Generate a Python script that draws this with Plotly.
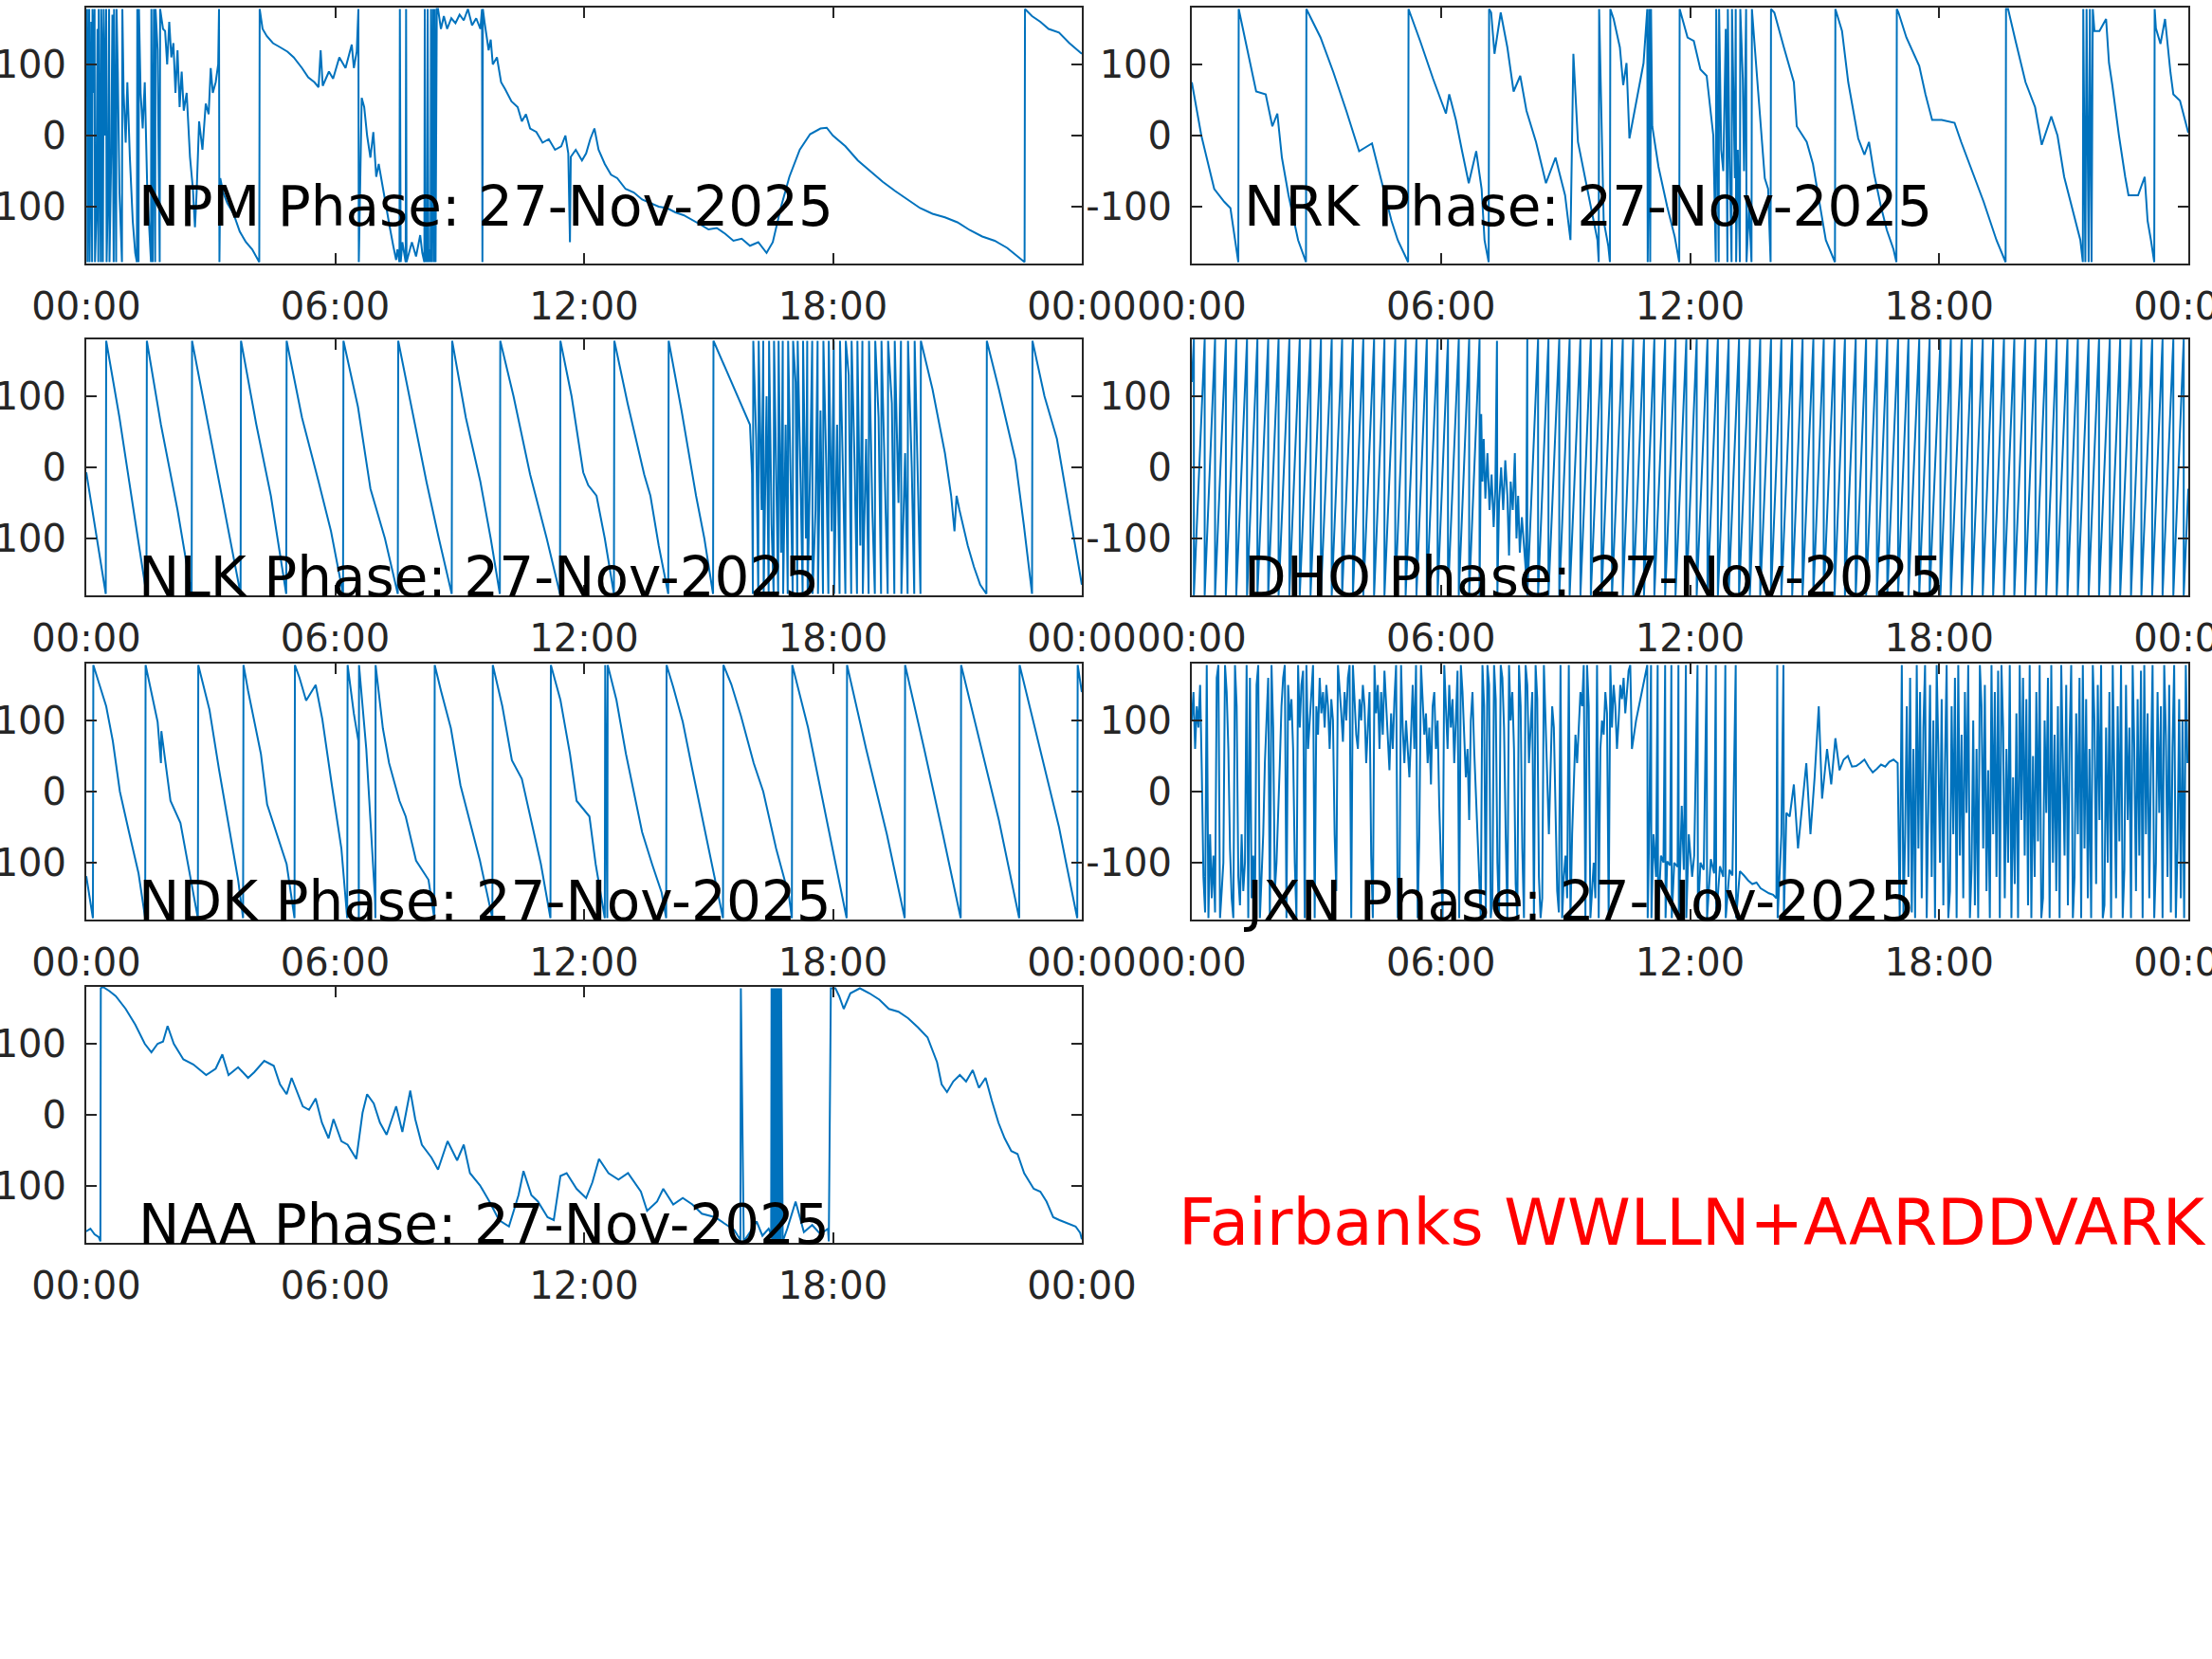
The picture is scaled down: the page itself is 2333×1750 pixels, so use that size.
import plotly.graph_objects as go

# ---------------- tick definitions ----------------
HOUR_TICKS = [0, 6, 12, 18, 24]
HOUR_LABELS = ["00:00", "06:00", "12:00", "18:00", "00:00"]
PHASE_TICKS = [-100, 0, 100]
PHASE_LABELS = ["-100", "0", "100"]

STATIONS = ["NPM", "NRK", "NLK", "DHO", "NDK", "JXN", "NAA"]
DATE_LABEL = "27-Nov-2025"
SITE_LABEL = "Fairbanks WWLLN+AARDDVARK"

# ---------------- data (hours UT, phase deg) ----------------
npm_t = [0.00, 0.02, 0.03, 0.05, 0.07, 0.08, 0.10, 0.12, 0.14, 0.15, 0.18, 0.20, 0.21, 0.24, 0.27, 0.29, 0.30, 0.32,
         0.35, 0.36, 0.38, 0.40, 0.42, 0.45, 0.48, 0.49, 0.52, 0.55, 0.56, 0.60, 0.63, 0.66, 0.67, 0.70, 0.72, 0.73,
         0.76, 0.80, 0.84, 0.86, 0.87, 0.90, 0.95, 0.99, 1.05, 1.12, 1.18, 1.22, 1.23, 1.26, 1.27, 1.31, 1.36, 1.41,
         1.47, 1.56, 1.57, 1.60, 1.63, 1.66, 1.67, 1.72, 1.77, 1.78, 1.85, 1.90, 1.95, 2.00, 2.05, 2.10, 2.15, 2.20,
         2.25, 2.30, 2.35, 2.42, 2.50, 2.57, 2.62, 2.66, 2.72, 2.80, 2.88, 2.95, 3.00, 3.05, 3.12, 3.18, 3.20, 3.21,
         3.23, 3.30, 3.40, 3.55, 3.70, 3.85, 4.00, 4.10, 4.17, 4.18, 4.25, 4.35, 4.50, 4.65, 4.85, 5.00, 5.20, 5.35,
         5.50, 5.60, 5.65, 5.70, 5.85, 5.95, 6.10, 6.25, 6.40, 6.45, 6.52, 6.56, 6.57, 6.64, 6.70, 6.77, 6.85, 6.92,
         6.99, 7.05, 7.15, 7.25, 7.32, 7.40, 7.47, 7.50, 7.55, 7.56, 7.58, 7.62, 7.68, 7.70, 7.71, 7.72, 7.78, 7.85,
         7.95, 8.00, 8.05, 8.10, 8.15, 8.16, 8.18, 8.20, 8.22, 8.23, 8.25, 8.28, 8.30, 8.31, 8.33, 8.36, 8.38, 8.40,
         8.42, 8.45, 8.48, 8.55, 8.62, 8.70, 8.80, 8.90, 9.00, 9.10, 9.20, 9.30, 9.40, 9.50, 9.54, 9.55, 9.56, 9.60,
         9.70, 9.75, 9.80, 9.90, 10.00, 10.10, 10.25, 10.40, 10.50, 10.60, 10.70, 10.85, 11.00, 11.15, 11.30, 11.45,
         11.55, 11.62, 11.66, 11.68, 11.80, 11.95, 12.05, 12.15, 12.25, 12.35, 12.50, 12.65, 12.80, 13.00, 13.20,
         13.40, 13.60, 13.80, 14.00, 14.20, 14.40, 14.60, 14.80, 15.00, 15.20, 15.40, 15.60, 15.80, 16.00, 16.20,
         16.40, 16.55, 16.75, 16.95, 17.20, 17.45, 17.70, 17.85, 18.00, 18.30, 18.60, 18.90, 19.20, 19.50, 19.80,
         20.10, 20.40, 20.70, 21.00, 21.30, 21.60, 21.90, 22.20, 22.45, 22.62, 22.63, 22.80, 23.00, 23.20, 23.45,
         23.70, 24.00]
npm_p = [120, 178, -178, 100, 178, -178, -60, 160, -178, 178, 60, 178, -178, -120, 150, -178, 178, 20,
         -178, 178, 120, -178, 178, 0, 178, -178, -90, 178, -178, -30, 170, -178, 178, -20, -178, 178,
         90, -80, -150, -178, 178, 60, -10, 75, -30, -120, -165, -178, 178, -178, 178, 60, 10, 75,
         -75, -178, 178, -178, 178, -178, 178, 120, -178, 178, 150, 147, 100, 160, 110, 130, 60, 120,
         40, 90, 35, 60, -30, -75, -129, -80, 20, -20, 45, 30, 95, 60, 75, 100, 178, -178,
         -60, -80, -95, -110, -135, -150, -160, -170, -178, 178, 150, 140, 130, 125, 118, 110, 95, 82,
         75, 68, 120, 70, 90, 80, 110, 95, 128, 95, 118, 178, -178, 53, 40, 0, -31, 5,
         -58, -40, -75, -110, -130, -155, -175, -160, -178, 178, -178, -150, -170, -178, 178, -178, -165, -150,
         -170, -155, -140, -165, -178, 178, -178, -150, -178, 178, -178, -160, -178, 178, -178, 178, -178, 178,
         -178, 178, 178, 150, 168, 150, 165, 158, 170, 162, 178, 155, 165, 150, 178, -178, 178, 160,
         120, 135, 100, 110, 75, 65, 48, 40, 20, 30, 10, 5, -10, -5, -20, -15,
         0, -25, -150, -30, -20, -35, -25, -5, 10, -20, -40, -55, -60, -75, -80,
         -90, -95, -100, -102, -108, -112, -118, -125, -132, -130, -138, -148, -145, -155, -150,
         -165, -150, -100, -58, -20, 2, 10, 11, 0, -15, -35, -50, -65, -78, -90,
         -102, -110, -115, -122, -133, -142, -148, -158, -170, -178, 178, 168, 160, 150, 145,
         130, 115]

nrk_t = [0.00, 0.23, 0.54, 0.78, 0.93, 1.12, 1.13, 1.24, 1.40, 1.55, 1.78, 1.94, 2.06, 2.17, 2.33, 2.56, 2.75, 2.76,
         3.10, 3.41, 3.72, 4.03, 4.34, 4.50, 4.81, 4.96, 5.21, 5.22, 5.50, 5.81, 6.12, 6.20, 6.36, 6.51, 6.67, 6.85,
         6.98, 7.05, 7.15, 7.16, 7.21, 7.29, 7.44, 7.60, 7.75, 7.91, 8.06, 8.29, 8.53, 8.76, 8.99, 9.12, 9.19, 9.30,
         9.53, 9.77, 9.80, 9.81, 9.92, 10.03, 10.07, 10.08, 10.16, 10.31, 10.39, 10.47, 10.54, 10.70, 10.78, 10.88,
         10.97, 10.98, 11.00, 11.02, 11.04, 11.06, 11.09, 11.24, 11.45, 11.63, 11.74, 11.75, 11.94, 12.09, 12.25,
         12.40, 12.56, 12.62, 12.63, 12.66, 12.69, 12.70, 12.75, 12.80, 12.86, 12.90, 12.91, 12.95, 13.00, 13.01,
         13.05, 13.08, 13.10, 13.11, 13.15, 13.20, 13.21, 13.27, 13.30, 13.35, 13.36, 13.42, 13.48, 13.49, 13.64,
         13.80, 13.88, 13.94, 13.95, 14.03, 14.26, 14.50, 14.57, 14.81, 14.96, 15.12, 15.27, 15.49, 15.50, 15.66,
         15.81, 16.05, 16.20, 16.31, 16.43, 16.59, 16.74, 16.90, 16.97, 16.98, 17.02, 17.21, 17.52, 17.67, 17.83,
         18.06, 18.37, 18.53, 18.76, 19.07, 19.38, 19.60, 19.61, 19.66, 19.84, 20.08, 20.31, 20.47, 20.70, 20.85,
         21.01, 21.24, 21.40, 21.46, 21.47, 21.52, 21.55, 21.60, 21.63, 21.67, 21.70, 21.74, 21.86, 22.02, 22.09,
         22.17, 22.33, 22.48, 22.56, 22.64, 22.79, 22.95, 23.02, 23.10, 23.18, 23.19, 23.22, 23.33, 23.44, 23.57,
         23.64, 23.80, 24.00]
nrk_p = [75, 0, -75, -93, -102, -178, 178, 147, 102, 62, 58, 13, 31, -31, -84, -147, -178, 178,
         138, 89, 35, -22, -11, -49, -120, -147, -178, 178, 133, 80, 31, 58, 22, -22, -67, -22,
         -75, -147, -178, 178, 173, 115, 173, 124, 62, 84, 35, -9, -67, -31, -84, -147, 115, -9,
         -75, -147, -178, 178, -120, -155, -178, 178, 164, 124, 71, 102, -4, 44, 71, 102,
         178, -178, -60, 178, -178, 178, 13, -44, -100, -142, -178, 178, 138, 133, 93,
         84, 0, -178, 178, -40, -178, 178, -20, -50, 150, -178, 178, -30, -178, 178,
         20, -60, 178, -178, -20, -178, 178, 80, -50, 178, -178, -100, -178, 178, 62,
         -60, -75, -178, 178, 173, 124, 75, 13, -9, -40, -98, -147, -178, 178, 147,
         75, -4, -27, -9, -53, -98, -133, -160, -178, 178, 173, 138, 98, 58, 22,
         22, 18, -9, -44, -93, -147, -178, 178, 178, 133, 75, 40, -13, 27, 0,
         -58, -111, -147, -178, 178, -178, 178, -178, 178, -178, 178, 147, 147, 164, 102,
         71, 0, -58, -84, -84, -84, -58, -120, -147, -178, 178, 151, 129, 164, 89,
         58, 49, 4]

nlk_t = [0.00, 0.12, 0.30, 0.47, 0.48, 0.80, 1.10, 1.45, 1.46, 1.80, 2.20, 2.54, 2.55, 2.90, 3.30, 3.72, 3.73, 4.10,
         4.45, 4.82, 4.83, 5.20, 5.60, 5.90, 6.19, 6.20, 6.55, 6.85, 7.20, 7.51, 7.52, 7.85, 8.20, 8.50, 8.81, 8.82,
         9.15, 9.50, 9.75, 9.97, 9.98, 10.30, 10.70, 11.10, 11.42, 11.43, 11.70, 11.98, 12.10, 12.30, 12.50, 12.72,
         12.73, 13.05, 13.45, 13.60, 13.80, 14.03, 14.04, 14.35, 14.70, 14.90, 15.11, 15.12, 15.40, 15.70, 16.00,
         16.05, 16.07, 16.08, 16.15, 16.20, 16.21, 16.28, 16.32, 16.33, 16.40, 16.45, 16.46, 16.52, 16.57, 16.58,
         16.63, 16.68, 16.69, 16.75, 16.79, 16.80, 16.86, 16.91, 16.92, 16.98, 17.03, 17.04, 17.10, 17.14, 17.15,
         17.22, 17.27, 17.28, 17.35, 17.38, 17.39, 17.46, 17.50, 17.51, 17.58, 17.63, 17.64, 17.70, 17.76, 17.77,
         17.84, 17.89, 17.90, 17.97, 18.02, 18.03, 18.10, 18.16, 18.17, 18.25, 18.30, 18.31, 18.38, 18.44, 18.45,
         18.52, 18.58, 18.59, 18.66, 18.71, 18.72, 18.80, 18.86, 18.87, 18.95, 19.01, 19.02, 19.10, 19.16, 19.17,
         19.26, 19.32, 19.33, 19.42, 19.48, 19.49, 19.58, 19.64, 19.65, 19.74, 19.80, 19.81, 19.90, 19.96, 19.97,
         20.05, 20.11, 20.12, 20.40, 20.70, 20.85, 20.93, 20.98, 21.05, 21.25, 21.40, 21.55, 21.70, 21.71, 22.00,
         22.40, 22.60, 22.80, 22.81, 23.10, 23.40, 23.70, 24.00]
nlk_p = [-7, -50, -120, -178, 178, 70, -45, -178, 178, 60, -60, -178, 178, 70, -50, -178, 178, 60,
         -40, -178, 178, 70, -20, -90, -178, 178, 85, -30, -100, -178, 178, 80, -20, -100, -178, 178,
         70, -20, -100, -178, 178, 100, -10, -100, -178, 178, 100, -7, -25, -40, -100, -178,
         178, 90, -10, -40, -110, -178, 178, 80, -40, -100, -178, 178, 140, 100, 60,
         -10, -178, 178, 40, -178, 178, -60, 178, -178, 100, -178, 178, -80, -178, 178,
         20, -178, 178, -120, 178, -178, 60, -178, 178, -40, -178, 178, 120, -178, 178,
         -20, -178, 178, -100, 178, -178, 30, 178, -178, -60, 178, -178, 80, -178, 178,
         0, -178, 178, -90, 178, -178, 60, -178, 178, -30, -178, 178, 130, -178, 178,
         10, -178, 178, -110, 178, -178, 40, -178, 178, -60, -178, 178, 70, -178, 178,
         -20, -178, 178, 90, -178, 178, -50, 178, -178, 20, -178, 178, 0, -178, 178,
         -10, -178, 178, 110, 20, -40, -90, -40, -60, -110, -140, -165, -178, 178, 110,
         10, -80, -178, 178, 100, 40, -60, -165]

# DHO: regular sawtooth; times (h) where the phase wraps from +180 to -180
dho_start_p = 120
dho_wraps_before = [0.05, 0.31, 0.56, 0.82, 1.07, 1.33, 1.58, 1.84, 2.09, 2.35, 2.60, 2.86, 3.11, 3.37, 3.62,
                    3.88, 4.13, 4.39, 4.64, 4.90, 5.15, 5.41, 5.66, 5.92, 6.17, 6.43, 6.68, 6.93]
dho_gap_t = [6.97, 7.00, 7.03, 7.07, 7.12, 7.17, 7.22, 7.27, 7.31, 7.35, 7.36, 7.40, 7.45, 7.50, 7.55, 7.60,
             7.64, 7.68, 7.73, 7.78, 7.82, 7.86, 7.90, 7.95, 8.00, 8.05]
dho_gap_p = [75, -20, 40, -44, 20, -60, -10, -84, -30, 178, -178, -50, 0, -60, 10, -40,
             -124, -20, -60, 20, -100, -40, -120, -70, -110, -150]
dho_wraps_after = [8.08, 8.34, 8.59, 8.85, 9.10, 9.36, 9.61, 9.87, 10.12, 10.38, 10.63, 10.89, 11.14, 11.40,
                   11.65, 11.91, 12.16, 12.42, 12.67, 12.93, 13.18, 13.44, 13.69, 13.95, 14.20, 14.46, 14.71,
                   14.97, 15.22, 15.48, 15.73, 15.99, 16.24, 16.50, 16.75, 17.01, 17.26, 17.52, 17.77, 18.03,
                   18.28, 18.54, 18.79, 19.05, 19.30, 19.56, 19.81, 20.07, 20.32, 20.58, 20.83, 21.09, 21.34,
                   21.60, 21.85, 22.11, 22.36, 22.62, 22.87, 23.13, 23.38, 23.64, 23.89]
dho_end_p = -30

ndk_t = [0.00, 0.16, 0.17, 0.48, 0.64, 0.81, 1.03, 1.26, 1.42, 1.43, 1.72, 1.80, 1.81, 2.03, 2.27, 2.50, 2.69, 2.70,
         2.97, 3.20, 3.43, 3.66, 3.78, 3.79, 3.90, 4.21, 4.36, 4.60, 4.83, 5.02, 5.03, 5.14, 5.30, 5.53, 5.69, 5.92,
         6.15, 6.29, 6.30, 6.45, 6.55, 6.56, 6.57, 6.575, 6.75, 6.96, 6.97, 6.975, 7.15, 7.30, 7.55, 7.70, 7.95,
         8.25, 8.39, 8.40, 8.55, 8.79, 9.02, 9.25, 9.49, 9.79, 9.80, 10.03, 10.26, 10.50, 10.73, 10.96, 11.19,
         11.20, 11.43, 11.66, 11.82, 12.13, 12.28, 12.50, 12.51, 12.56, 12.57, 12.78, 13.01, 13.25, 13.40, 13.64,
         13.87, 13.98, 13.99, 14.15, 14.38, 14.61, 14.84, 15.15, 15.35, 15.36, 15.55, 15.78, 16.09, 16.32, 16.63,
         16.94, 17.01, 17.02, 17.40, 17.85, 18.33, 18.34, 18.80, 19.30, 19.73, 19.74, 20.20, 20.65, 21.08, 21.09,
         21.50, 22.00, 22.49, 22.50, 22.95, 23.45, 23.62, 23.89, 23.90, 24.00]
ndk_p = [-119, -178, 178, 120, 71, 0, -57, -115, -178, 178, 98, 40, 85, -13, -44, -115, -178, 178,
         115, 31, -44, -124, -178, 178, 142, 53, -18, -62, -102, -178, 178, 160, 128, 150, 102, 9,
         -80, -178, 178, 110, 71, 71, -178, 178, 60, -150, -178, 178, 89, 40, -13, -35, -97,
         -124, -178, 178, 142, 89, 9, -44, -97, -178, 178, 120, 44, 18, -44, -102, -178,
         178, 129, 53, -13, -35, -102, -178, 178, -178, 178, 129, 53, -13, -57, -102,
         -142, -178, 178, 147, 98, 31, -35, -124, -178, 178, 151, 107, 40, 0, -80,
         -147, -178, 178, 90, -40, -178, 178, 60, -60, -178, 178, 60, -60, -178, 178,
         80, -40, -178, 178, 70, -50, -100, -178, 178, 140]

# JXN: noisy, sampled every 0.04 h in the two noisy stretches, quiet part listed point by point
jxn_a_start, jxn_step = 0.0, 0.04
jxn_a_p = [100, 140, 60, 120, 90, 150, 30, -120, -170, 178,
           -178, -60, -150, -90, -170, 160, 178, -178, -140, -100,
           178, 140, 60, -80, -150, -178, 178, 120, -120, -160,
           -60, -140, -100, 178, -178, 160, -150, -90, -170, 150,
           178, -178, -120, -60, 40, 100, 160, -178, 178, 90,
           -140, -100, -40, 40, 120, 160, 178, -178, 150, 100,
           130, 60, -100, -178, 178, 90, 150, 170, -178, 178,
           60, 100, 140, 178, -178, 120, 80, 160, 110, 140,
           90, 150, 120, 60, 130, 100, -60, -140, 178, 150,
           110, 70, 140, 100, 160, 178, -178, 178, 120, 80,
           60, 130, 100, 150, 120, 40, 90, 140, -90, -178,
           178, 110, 150, 60, 140, 80, 170, 120, 90, 30,
           110, 60, 130, 178, -178, -150, 178, 90, 40, 100,
           60, 20, 80, 150, 60, 178, -178, -60, 178, 120,
           80, 110, 40, 90, 10, 120, 140, 60, 100, -20,
           -100, -178, 178, 120, 60, 150, 90, 130, 40, 100,
           170, -178, 178, 140, 80, 20, 60, -40, 100, 140,
           60, 0, -60, -140, -178, 178, 120, -178, 178, 150,
           -178, -150, 178, 130, -100, -178, 178, 160, 90, -60,
           -178, 178, 100, 140, 60, -130, -178, 178, 120, -80,
           -178, 178, 150, 40, 100, 140, -178, 178, 130, -120,
           -178, -150, 178, 80, 20, -60, 40, 120, 90, -40,
           -140, -170, 178, -178, -120, -90, -150, 178, -178, -60,
           20, 80, 40, 100, 140, 120, 178, -178, 178, 120,
           -178, -140, -100, -150, 178, -178, 60, 100, 80, 140,
           110, -178, 178, 90, 150, 120, 60, 100, 150, 130,
           160, 110, 140, 170, 178]
jxn_b_t = [10.60, 10.70, 10.80, 10.90, 10.97, 10.98, 11.02, 11.06, 11.07, 11.12, 11.18, 11.22, 11.23, 11.30,
           11.36, 11.40, 11.41, 11.45, 11.52, 11.55, 11.56, 11.62, 11.70, 11.72, 11.73, 11.80, 11.85, 11.90,
           11.91, 11.97, 12.05, 12.10, 12.18, 12.19, 12.25, 12.33, 12.40, 12.41, 12.50, 12.58, 12.62, 12.63,
           12.72, 12.80, 12.85, 12.86, 12.95, 13.02, 13.10, 13.11, 13.20, 13.30, 13.40, 13.50, 13.60, 13.70,
           13.80, 13.90, 14.00, 14.08, 14.10, 14.11, 14.20, 14.25, 14.26, 14.32, 14.40, 14.50, 14.60, 14.70,
           14.80, 14.90, 15.00, 15.10, 15.18, 15.30, 15.40, 15.50, 15.60, 15.70, 15.80, 15.90, 16.00, 16.10,
           16.20, 16.30, 16.40, 16.50, 16.60, 16.70, 16.80, 16.90, 17.00, 17.05]
jxn_b_p = [60, 100, 130, 160, 178, -178, -40, 178, -178, -60, -120, 178, -178, -90,
           -100, 178, -178, -98, -104, 178, -178, -100, -106, 178, -178, -20, -110, 178,
           -178, -60, -120, -90, 178, -178, -100, -110, 178, -178, -95, -115, 178, -178,
           -105, -120, 178, -178, -110, -118, 178, -178, -112, -118, -125, -130, -128, -136,
           -140, -143, -145, -150, 178, -178, -60, 178, -178, -30, -35, 10, -80, -20,
           40, -60, 20, 120, -10, 60, 10, 75, 30, 45, 50, 35, 36, 40,
           45, 35, 27, 32, 38, 35, 42, 45, 40, -178]
jxn_c_start = 17.10
jxn_c_p = [178, -178, -60, 120, -120, 160, -170, 60, -178, 178,
           -80, 140, -150, 90, 178, -178, -40, 150, -120, 100,
           -178, 178, 60, -100, 130, -160, 40, 178, -178, -140,
           120, -60, 160, -178, 178, -90, 80, -150, 140, -30,
           178, -178, -110, 100, -160, 60, -178, 178, 120, -80,
           150, -140, 30, -178, 178, -60, 140, -120, 170, -178,
           178, 90, -150, 60, -100, 178, -178, 20, -130, 110,
           -178, 178, -40, 160, -90, 130, -160, 178, -178, 50,
           -120, 140, -70, 178, -178, -150, 100, -30, 160, -178,
           178, -100, 80, -140, 120, -178, 178, 40, -90, 150,
           -160, 70, 178, -178, -120, 110, -60, 160, -178, 178,
           -80, 130, -150, 60, -178, 178, 100, -130, 150, -40,
           178, -178, -160, 90, -100, 140, -178, 178, 30, -150,
           120, -70, 178, -178, -110, 150, -40, 90, -178, 178,
           60, -140, 130, -90, 170, -178, 178, -60, 110, -150,
           40, 178, -178, -100, 140, -30, 120, -178, 178, 80,
           -120, 150, -170, 60, 178, -178, -80, 130, -150, 100,
           -178, 178, 40]

naa_t = [0.00, 0.10, 0.20, 0.30, 0.34, 0.35, 0.40, 0.56, 0.71, 0.95, 1.18, 1.41, 1.57, 1.72, 1.85, 1.96, 2.11,
         2.34, 2.58, 2.89, 3.12, 3.28, 3.43, 3.66, 3.90, 4.05, 4.29, 4.52, 4.67, 4.83, 4.95, 5.22, 5.37, 5.53,
         5.68, 5.84, 5.96, 6.15, 6.30, 6.51, 6.66, 6.77, 6.93, 7.08, 7.24, 7.47, 7.62, 7.81, 7.93, 8.09, 8.32,
         8.48, 8.71, 8.94, 9.10, 9.25, 9.49, 9.72, 9.95, 10.19, 10.42, 10.54, 10.73, 10.89, 11.12, 11.27, 11.43,
         11.58, 11.82, 12.05, 12.20, 12.36, 12.59, 12.83, 13.06, 13.37, 13.52, 13.76, 13.91, 14.15, 14.38, 14.61,
         14.84, 15.16, 15.39, 15.62, 15.76, 15.77, 15.78, 15.85, 16.00, 16.16, 16.30, 16.45, 16.51, 16.52, 16.53,
         16.54, 16.56, 16.57, 16.59, 16.60, 16.62, 16.63, 16.65, 16.66, 16.68, 16.69, 16.71, 16.72, 16.74, 16.75,
         16.79, 16.90, 17.10, 17.30, 17.50, 17.70, 17.88, 17.89, 17.90, 17.95, 18.06, 18.15, 18.26, 18.42, 18.65,
         18.88, 19.12, 19.35, 19.58, 19.81, 20.05, 20.28, 20.51, 20.62, 20.75, 20.90, 21.06, 21.21, 21.37, 21.52,
         21.68, 21.83, 21.99, 22.14, 22.30, 22.45, 22.61, 22.84, 23.00, 23.15, 23.31, 23.46, 23.70, 23.85, 23.96,
         24.00]
naa_p = [-164, -160, -168, -172, -178, 178, 180, 174, 167, 149, 127, 100, 88, 100, 103, 125, 100,
         78, 71, 56, 65, 85, 56, 67, 52, 60, 76, 69, 43, 29, 52, 12, 7, 23, -11, -33, -6, -37, -42, -62, 3,
         29, 16, -11, -28, 12, -24, 34, -6, -42, -60, -77, -37, -64, -42, -82, -99, -122, -148, -157, -113, -79,
         -113, -122, -144, -148, -86, -82, -104, -117, -95, -62, -82, -91, -82, -108, -135, -122, -104, -126, -117,
         -126, -139, -144, -153, -162, -175, -178, 178, -178, -165, -150, -170, -160, -168, 178, -178, 178, -178,
         178, -178, 178, -178, 178, -178, 178, -178, 178, -178, 178, -178, 178, -178, -160, -122, -165, -155,
         -168, -160, -175, -178, 178, 178, 167, 149, 171, 178, 171, 162, 149, 145, 136, 123, 109, 74, 43, 32, 47,
         56, 47, 63, 38, 52, 20, -11, -33, -51, -55, -82, -104, -108, -122, -144, -148, -153, -157, -166, -175,
         -171]

# ---------------- assemble series ----------------
dho_t = [0.0]
dho_p = [dho_start_p]
for w in dho_wraps_before:
    dho_t += [w, w]
    dho_p += [180, -180]
dho_t += dho_gap_t
dho_p += dho_gap_p
for w in dho_wraps_after:
    dho_t += [w, w]
    dho_p += [180, -180]
dho_t.append(24.0)
dho_p.append(dho_end_p)

jxn_t = [round(jxn_a_start + i * jxn_step, 3) for i in range(len(jxn_a_p))] + jxn_b_t + \
        [round(jxn_c_start + i * jxn_step, 3) for i in range(len(jxn_c_p))]
jxn_p = jxn_a_p + jxn_b_p + jxn_c_p

series = {
    "NPM": (npm_t, npm_p),
    "NRK": (nrk_t, nrk_p),
    "NLK": (nlk_t, nlk_p),
    "DHO": (dho_t, dho_p),
    "NDK": (ndk_t, ndk_p),
    "JXN": (jxn_t, jxn_p),
    "NAA": (naa_t, naa_p),
}

# ---------------- layout geometry (pixels of 2333x1750 figure) ----------------
W, H = 2333, 1750
COL_X = [(91, 1141), (1257, 2308)]
ROW_Y = [(8, 278), (358, 628), (700, 970), (1041, 1311)]
TEXT_Y = [-100, -155, -155, -155]

AX_COLOR = "#262626"
LINE_COLOR = "#0072BD"
FONT = "DejaVu Sans"

fig = go.Figure()
layout = dict(
    width=W, height=H, margin=dict(l=0, r=0, t=0, b=0, pad=0, autoexpand=False),
    paper_bgcolor="white", plot_bgcolor="white", showlegend=False,
    annotations=[],
)

for i, name in enumerate(STATIONS):
    row, col = divmod(i, 2)
    x0, x1 = COL_X[col]
    y0, y1 = ROW_Y[row]
    k = "" if i == 0 else str(i + 1)
    t, p = series[name]
    fig.add_trace(go.Scatter(x=t, y=p, mode="lines", xaxis="x" + k, yaxis="y" + k,
                             line=dict(color=LINE_COLOR, width=2), hoverinfo="skip"))
    common = dict(showline=True, linecolor=AX_COLOR, linewidth=2, mirror="ticks",
                  ticks="inside", ticklen=11, tickwidth=2, tickcolor=AX_COLOR,
                  showgrid=False, zeroline=False, ticklabeloverflow="allow", automargin=False,
                  tickfont=dict(family=FONT, size=40, color=AX_COLOR))
    layout["xaxis" + k] = dict(common, domain=[x0 / W, x1 / W], range=[0, 24],
                               anchor="y" + k, tickvals=HOUR_TICKS, ticktext=HOUR_LABELS,
                               ticklabelstandoff=9)
    layout["yaxis" + k] = dict(common, domain=[1 - y1 / H, 1 - y0 / H], range=[-180, 180],
                               anchor="x" + k, tickvals=PHASE_TICKS, ticktext=PHASE_LABELS,
                               ticklabelstandoff=11)
    layout["annotations"].append(dict(
        x=1.2, y=TEXT_Y[row], xref="x" + k, yref="y" + k, text=f"{name} Phase: {DATE_LABEL}",
        showarrow=False, xanchor="left", yanchor="middle",
        font=dict(family=FONT, size=58, color="black")))

layout["annotations"].append(dict(
    x=1785 / W, y=1 - 1289 / H, xref="paper", yref="paper", text=SITE_LABEL,
    showarrow=False, xanchor="center", yanchor="middle",
    font=dict(family=FONT, size=67.5, color="#FF0000")))

fig.update_layout(**layout)
# remove the browser's default 8px page margin so the figure sits at the window origin
fig.write_html("out.html", config={"displayModeBar": False},
               post_script="document.body.style.margin='0';")
